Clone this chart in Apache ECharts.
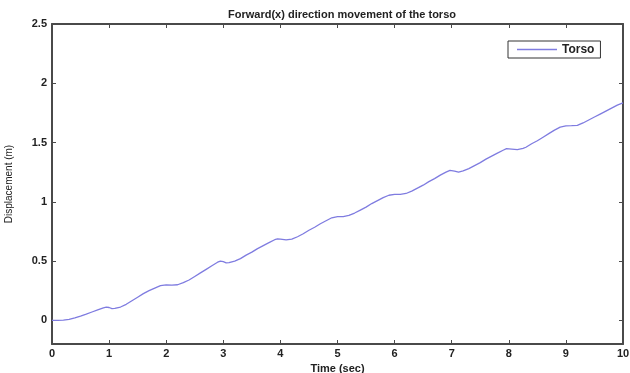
<!DOCTYPE html>
<html>
<head>
<meta charset="utf-8">
<script src="https://cdn.jsdelivr.net/npm/echarts@6/dist/echarts.min.js"></script>
<style>
  html, body { margin: 0; padding: 0; background: #ffffff; }
  #chart { width: 630px; height: 373px; }
</style>
</head>
<body>
<div id="chart"></div>
<script>
// Forward displacement of the torso over time (seconds, metres)
const timeSec = [
  0, 0.1, 0.2, 0.3, 0.4, 0.5, 0.6, 0.7, 0.8, 0.9, 0.95, 1.0, 1.05, 1.1, 1.2, 1.3, 1.4, 1.5, 1.6, 1.7, 1.8, 1.9,
  2.0, 2.1, 2.2, 2.3, 2.4, 2.5, 2.6, 2.7, 2.8, 2.9, 2.95, 3.0, 3.05, 3.1, 3.2, 3.3, 3.4, 3.5, 3.6, 3.7, 3.8, 3.9,
  3.95, 4.0, 4.1, 4.2, 4.3, 4.4, 4.5, 4.6, 4.7, 4.8, 4.9, 5.0, 5.1, 5.2, 5.3, 5.4, 5.5, 5.6, 5.7, 5.8, 5.9,
  6.0, 6.1, 6.2, 6.3, 6.4, 6.5, 6.6, 6.7, 6.8, 6.9, 6.97, 7.05, 7.12, 7.2, 7.3, 7.4, 7.5, 7.6, 7.7, 7.8, 7.9,
  7.96, 8.05, 8.15, 8.25, 8.3, 8.4, 8.5, 8.6, 8.7, 8.8, 8.9, 9.0, 9.1, 9.2, 9.3, 9.4, 9.5, 9.6, 9.7, 9.8, 9.9, 10.0
];
const torsoDisp = [
  0, 0, 0.002, 0.008, 0.02, 0.035, 0.052, 0.07, 0.088, 0.105, 0.112, 0.108, 0.099, 0.1, 0.112, 0.135, 0.165, 0.195, 0.225, 0.25, 0.272, 0.292,
  0.298, 0.296, 0.3, 0.318, 0.34, 0.37, 0.4, 0.43, 0.46, 0.49, 0.5, 0.495, 0.485, 0.487, 0.5, 0.52, 0.55, 0.575, 0.605, 0.63, 0.655, 0.68,
  0.687, 0.685, 0.678, 0.685, 0.705, 0.73, 0.76, 0.785, 0.815, 0.84, 0.865, 0.875, 0.875, 0.885, 0.905, 0.93, 0.955, 0.985, 1.01, 1.035, 1.055,
  1.062, 1.062, 1.07, 1.09, 1.115, 1.14, 1.17, 1.195, 1.225, 1.25, 1.265, 1.258, 1.25, 1.26, 1.28, 1.305, 1.33, 1.36, 1.385, 1.41, 1.435,
  1.448, 1.445, 1.44, 1.45, 1.46, 1.49, 1.515, 1.545, 1.575, 1.605, 1.63, 1.64, 1.642, 1.645, 1.665, 1.69, 1.715, 1.74, 1.765, 1.79, 1.815, 1.835
];
const xTicks = [0, 1, 2, 3, 4, 5, 6, 7, 8, 9, 10];
const yTicks = [0, 0.5, 1, 1.5, 2, 2.5];

const FONT = '"Liberation Sans", Arial, Helvetica, sans-serif';
const AXIS_COLOR = '#4a4a4a';
const LINE_COLOR = '#7f7ce0';

const chart = echarts.init(document.getElementById('chart'), null, { renderer: 'canvas' });

const boxAxisLine = { show: true, onZero: false, lineStyle: { color: AXIS_COLOR, width: 2 } };
const tickStyle = { show: true, inside: true, length: 4, lineStyle: { color: AXIS_COLOR, width: 1 } };
const labelStyle = { color: '#222', fontFamily: FONT, fontWeight: 'bold', fontSize: 11 };

chart.setOption({
  animation: false,
  backgroundColor: '#ffffff',
  title: {
    text: 'Forward(x) direction movement of the torso',
    left: 337, textAlign: 'center', top: 4,
    textStyle: { fontFamily: FONT, fontWeight: 'bold', fontSize: 11, color: '#222' }
  },
  grid: { left: 52, right: 7, top: 24, bottom: 29, containLabel: false, outerBoundsMode: 'none' },
  legend: {
    left: 508, top: 41,
    padding: [2, 6, 2, 9],
    borderColor: '#333', borderWidth: 1, borderRadius: 0,
    backgroundColor: '#ffffff',
    icon: 'rect',
    itemWidth: 40, itemHeight: 1.5, itemGap: 6,
    textStyle: { fontFamily: FONT, fontWeight: 'bold', fontSize: 12, color: '#222', lineHeight: 13 },
    data: [{ name: 'Torso' }]
  },
  xAxis: [
    {
      type: 'value', min: 0, max: 10, position: 'bottom',
      name: 'Time (sec)', nameLocation: 'middle', nameGap: 14,
      nameTextStyle: { fontFamily: FONT, fontWeight: 'bold', fontSize: 11, color: '#222' },
      axisLine: boxAxisLine,
      axisTick: Object.assign({ customValues: xTicks }, tickStyle),
      axisLabel: Object.assign({ customValues: xTicks, margin: 4 }, labelStyle),
      splitLine: { show: false }
    },
    {
      type: 'value', min: 0, max: 10, position: 'top',
      axisLine: boxAxisLine,
      axisTick: Object.assign({ customValues: xTicks }, tickStyle),
      axisLabel: { show: false },
      splitLine: { show: false }
    }
  ],
  yAxis: [
    {
      type: 'value', min: -0.2, max: 2.5, position: 'left',
      name: 'Displacement (m)', nameLocation: 'middle', nameGap: 38,
      nameTextStyle: { fontFamily: FONT, fontSize: 10, color: '#222' },
      axisLine: boxAxisLine,
      axisTick: Object.assign({ customValues: yTicks }, tickStyle),
      axisLabel: Object.assign({ customValues: yTicks, margin: 5 }, labelStyle),
      splitLine: { show: false }
    },
    {
      type: 'value', min: -0.2, max: 2.5, position: 'right',
      axisLine: boxAxisLine,
      axisTick: Object.assign({ customValues: yTicks }, tickStyle),
      axisLabel: { show: false },
      splitLine: { show: false }
    }
  ],
  series: [
    {
      name: 'Torso',
      type: 'line',
      xAxisIndex: 0, yAxisIndex: 0,
      data: timeSec.map((t, i) => [t, torsoDisp[i]]),
      symbol: 'none',
      lineStyle: { color: LINE_COLOR, width: 1.3 },
      itemStyle: { color: LINE_COLOR }
    }
  ]
});
</script>
</body>
</html>
